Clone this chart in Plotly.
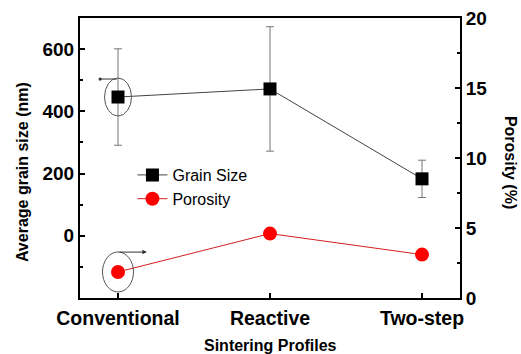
import plotly.graph_objects as go

categories = ["Conventional", "Reactive", "Two-step"]
grain_size = [446, 472, 183]
grain_err = [155, 200, 60]
porosity = [1.86, 4.6, 3.1]

left_ticks = [0, 200, 400, 600]
right_ticks = [0, 5, 10, 15, 20]

FONT = "Liberation Sans, Arial, sans-serif"

fig = go.Figure()
fig.add_trace(go.Scatter(
    x=categories, y=grain_size, name="Grain Size", mode="lines+markers",
    line=dict(color="#444444", width=1),
    marker=dict(symbol="square", size=13, color="black"),
    error_y=dict(type="data", array=grain_err, visible=True, color="#777777",
                 thickness=1, width=4),
    yaxis="y",
))
fig.add_trace(go.Scatter(
    x=categories, y=porosity, name="Porosity", mode="lines+markers",
    line=dict(color="#d42020", width=1),
    marker=dict(symbol="circle", size=14, color="#ff0000"),
    yaxis="y2",
))

def axis_common(size):
    return dict(
        showline=True, linecolor="black", linewidth=2, ticks="inside",
        tickcolor="black", tickwidth=2, ticklen=5, showgrid=False, zeroline=False,
        automargin=False,
        tickfont=dict(family=FONT, size=size, color="black", weight="bold"),
    )

fig.update_layout(
    width=521, height=354,
    margin=dict(l=80, r=61, t=18, b=56),
    plot_bgcolor="white", paper_bgcolor="white",
    font=dict(family=FONT, color="black"),
    xaxis=dict(type="category", range=[-0.25, 2.25], mirror=True,
               ticklabelstandoff=2, **axis_common(19.5)),
    yaxis=dict(range=[-200, 700], tickvals=left_ticks,
               minor=dict(dtick=100, ticks="inside", ticklen=3, tickcolor="black", tickwidth=2),
               **axis_common(19)),
    yaxis2=dict(range=[0, 20], tickvals=right_ticks, overlaying="y", side="right",
                minor=dict(dtick=2.5, ticks="inside", ticklen=3, tickcolor="black", tickwidth=2),
                **axis_common(19)),
    showlegend=True,
    legend=dict(x=0.138, y=0.50, xanchor="left", yanchor="top",
                bgcolor="rgba(0,0,0,0)", tracegroupgap=0,
                font=dict(family=FONT, size=16, color="black")),
)

# axis titles as annotations
fig.add_annotation(text="<b>Sintering Profiles</b>", xref="paper", yref="paper",
                   x=0.5, y=-0.168, showarrow=False, yanchor="middle",
                   font=dict(size=16, family=FONT))
fig.add_annotation(text="<b>Average grain size (nm)</b>", xref="paper", yref="paper",
                   x=-0.18, y=0.45, textangle=-90, showarrow=False,
                   font=dict(size=16, family=FONT))
fig.add_annotation(text="<b>Porosity (%)</b>", xref="paper", yref="paper",
                   x=1.16, y=0.485, textangle=90, showarrow=False,
                   font=dict(size=16, family=FONT))

# ellipses highlighting the conventional points
fig.add_shape(type="circle", xref="x", yref="y", xsizemode="pixel", ysizemode="pixel",
              xanchor=categories[0], yanchor=grain_size[0],
              x0=-13.5, x1=13.5, y0=-19, y1=19,
              line=dict(color="#555555", width=1))
fig.add_shape(type="circle", xref="x", yref="y2", xsizemode="pixel", ysizemode="pixel",
              xanchor=categories[0], yanchor=porosity[0],
              x0=-15.5, x1=15.5, y0=-20, y1=20,
              line=dict(color="#555555", width=1))

# arrows pointing to the corresponding axes
fig.add_annotation(x=0.053, y=0.782, xref="paper", yref="paper", ax=18, ay=0,
                   showarrow=True, arrowhead=6, arrowsize=0.8, arrowwidth=1,
                   arrowcolor="#333333", text="")
fig.add_annotation(x=0.176, y=0.164, xref="paper", yref="paper", ax=-29, ay=0,
                   showarrow=True, arrowhead=2, arrowsize=0.9, arrowwidth=1,
                   arrowcolor="#333333", text="")

fig.write_html("out.html")
